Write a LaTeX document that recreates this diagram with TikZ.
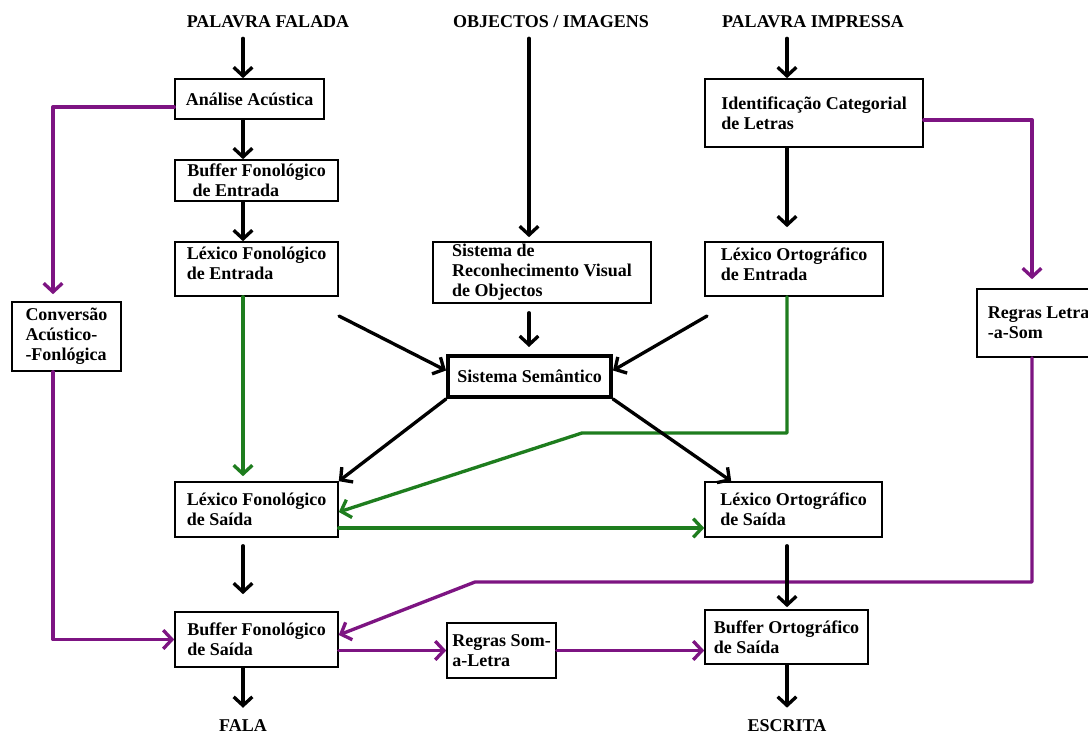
\documentclass[tikz,border=0pt]{standalone}
\usepackage{fontspec}
\setmainfont{Liberation Serif}
\usetikzlibrary{calc}
\usetikzlibrary{arrows.meta}

\definecolor{roxo}{RGB}{125,20,130}
\definecolor{verde}{RGB}{30,125,30}

\begin{document}
\begin{tikzpicture}[
        x=0.75pt, y=-0.75pt,
        line cap=round,
        line join=round,
        caixa/.style={draw, line width=1.2pt, line join=miter, align=left, inner sep=0pt,
            font=\bfseries\fontsize{13.5}{15}\selectfont},
        titulo/.style={inner sep=0pt, font=\bfseries\fontsize{13.5}{15}\selectfont},
        seta/.style={line width=2.5pt, -{Straight Barb[length=6.5pt,width=14pt]}},
        setaverde/.style={seta, draw=verde},
        setaroxa/.style={seta, draw=roxo}
    ]
        \useasboundingbox (0,0) rectangle (1088,737);
        \clip (0,0) rectangle (1088,737);
        \fill[white] (0,0) rectangle (1088,737);

        % entradas
        \node[titulo] (pf) at (268,22) {PALAVRA FALADA};
        \node[titulo] (oi) at (551,22) {OBJECTOS / IMAGENS};
        \node[titulo] (pi) at (813,22) {PALAVRA IMPRESSA};

        % coluna esquerda
        \node[caixa, minimum width=111.75pt, minimum height=30pt] (ana) at (249.5,99) {Análise Acústica};
        \node[caixa, minimum width=122.25pt, minimum height=30.75pt] (bfe) at (256.5,180.5) {Buffer Fonológico\\\hspace{0.3em}de Entrada};
        \node[caixa, minimum width=122.25pt, minimum height=40.5pt] (lfe) at (256.5,269) {Léxico Fonológico\\de Entrada\\[-7pt]\mbox{}};
        \node[caixa, minimum width=81.75pt, minimum height=51.75pt] (cav) at (66.5,336.5) {Conversão\\Acústico-\\-Fonlógica};

        % centro
        \node[caixa, minimum width=163.5pt, minimum height=45.75pt] (srv) at (542,272.5) {Sistema de\\Reconhecimento Visual\\de Objectos};
        \node[caixa, line width=3pt, minimum width=122.25pt, minimum height=30.75pt] (sem) at (529.5,376.5) {Sistema Semântico};

        % coluna direita
        \node[caixa, minimum width=163.5pt, minimum height=51pt] (icl) at (814,113) {Identificação Categorial\\de Letras};
        \node[caixa, minimum width=133.5pt, minimum height=40.5pt] (loe) at (794,269) {Léxico Ortográfico\\de Entrada\\[-7pt]\mbox{}};
        \node[caixa, minimum width=92.25pt, minimum height=51pt] (rls) at (1038.5,323) {Regras Letra\\-a-Som};

        % saidas
        \node[caixa, minimum width=122.25pt, minimum height=41.25pt] (lfs) at (256.5,509.5) {Léxico Fonológico\\de Saída};
        \node[caixa, minimum width=132.75pt, minimum height=41.25pt] (los) at (793.5,509.5) {Léxico Ortográfico\\de Saída};
        \node[caixa, minimum width=122.25pt, minimum height=41.25pt] (bfs) at (256.5,639.5) {Buffer Fonológico\\de Saída};
        \node[caixa, minimum width=81.75pt, minimum height=41.25pt] (rsl) at (501.5,650.5) {Regras Som-\\a-Letra};
        \node[caixa, minimum width=122.25pt, minimum height=40.5pt] (bos) at (786.5,637) {Buffer Ortográfico\\de Saída};

        \node[titulo] (fala) at (243,726) {FALA};
        \node[titulo] (escr) at (787,726) {ESCRITA};

        \coordinate (colP) at (53,0);
        \coordinate (colL) at (243,0);
        \coordinate (colM) at (529,0);
        \coordinate (colR) at (787,0);
        \coordinate (colQ) at (1032,0);
        \coordinate (sl) at (339,316);
        \coordinate (sr) at (707,316);
        \coordinate (gk) at (582,433);
        \coordinate (pk) at (475,582);

        % vias sublexicais
        \draw[setaroxa, shorten >=5.25pt] ($(ana.west)+(0,8)$) -| (colP |- cav.north);
        \draw[setaroxa] (colP |- cav.south) |- (bfs.west);
        \draw[setaroxa, shorten >=6.75pt] ($(icl.east)+(0,7)$) -| (colQ |- rls.north);
        \draw[setaroxa] (colQ |- rls.south) |- (pk) -- ($(bfs.east)+(0,-4.5)$);
        \draw[setaroxa] ($(bfs.east)+(0,11)$) -- (rsl.west);
        \draw[setaroxa] (rsl.east) -- (rsl.east -| bos.west);

        % vias lexicais directas
        \draw[setaverde, shorten >=3.75pt] (lfe.south -| colL) -- (lfs.north -| colL);
        \draw[setaverde] (loe.south -| colR) |- (gk) -- ($(lfs.east)+(0,2.5)$);
        \draw[setaverde] ($(lfs.east)+(0,18.5)$) -- ($(los.west)+(0,18.5)$);

        % vias semanticas
        \draw[seta, shorten <=7.5pt] (pf.south -| colL) -- (ana.north -| colL);
        \draw[seta] (ana.south -| colL) -- (bfe.north -| colL);
        \draw[seta] (bfe.south -| colL) -- (lfe.north -| colL);
        \draw[seta, shorten <=6pt, shorten >=12.75pt] (lfs.south -| colL) -- (bfs.north -| colL);
        \draw[seta, shorten >=9pt] (bfs.south -| colL) -- (fala.north -| colL);
        \draw[seta, shorten <=7.5pt, shorten >=3pt] (oi.south -| colM) -- (srv.north -| colM);
        \draw[seta, shorten <=6.75pt, shorten >=5.25pt] (srv.south -| colM) -- (sem.north -| colM);
        \draw[seta, shorten <=7.5pt] (pi.south -| colR) -- (icl.north -| colR);
        \draw[seta, shorten >=10.5pt] (icl.south -| colR) -- (loe.north -| colR);
        \draw[seta, shorten <=6pt, shorten >=1.5pt] (los.south -| colR) -- (bos.north -| colR);
        \draw[seta, shorten >=9pt] (bos.south -| colR) -- (escr.north -| colR);
        \draw[seta] (sl) -- ($(sem.west)+(0,-6)$);
        \draw[seta] (sr) -- ($(sem.east)+(0,-6)$);
        \draw[seta] (sem.south west) -- (lfs.north east);
        \draw[seta] (sem.south east) -- ($(los.north west)+(27,0)$);
    \end{tikzpicture}
\end{document}
